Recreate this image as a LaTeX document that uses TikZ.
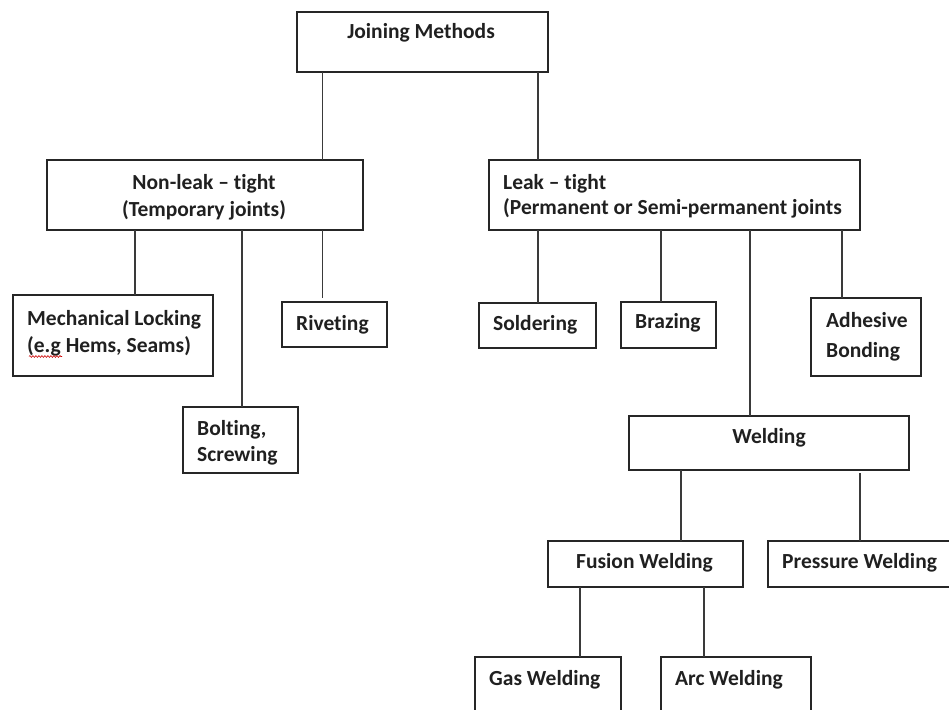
\documentclass[tikz,border=0pt]{standalone}
\usepackage{fontspec}
\setmainfont{Carlito}[Ligatures=NoCommon, RawFeature={-liga;-dlig;-clig}]
\usetikzlibrary{decorations.pathmorphing}
\definecolor{boxc}{HTML}{262626}
\definecolor{linec}{HTML}{3A3A3A}
\definecolor{txtc}{HTML}{202020}
\begin{document}
\begin{tikzpicture}[x=1pt,y=-1pt,
  box/.style={draw=boxc, line width=1.6pt, fill=white, inner sep=0pt, outer sep=0pt},
  link/.style={draw=linec, line width=1.5pt},
  txt/.style={font=\fontsize{21.5}{26}\selectfont\bfseries, text=txtc, inner sep=0pt},
  lt/.style={txt, anchor=base west},
  ct/.style={txt, anchor=base},
  squig/.style={draw=red!80!black, line width=0.6pt, decorate, decoration={snake, segment length=3pt, amplitude=0.9pt}}
  ]
\useasboundingbox (0,0) rectangle (949,709);
\clip (0,0) rectangle (949,709);
\fill[white] (0,0) rectangle (949,709);

% boxes
\node[box, minimum width=251pt, minimum height=60pt] (jm) at (422.5,42) {};
\node[box, minimum width=316pt, minimum height=70pt] (nl) at (205,195) {};
\node[box, minimum width=371pt, minimum height=70pt] (lk) at (674.5,195) {};
\node[box, minimum width=200pt, minimum height=81pt] (mech) at (113,335.5) {};
\node[box, minimum width=105pt, minimum height=45pt] (riv) at (334.5,324.5) {};
\node[box, minimum width=115pt, minimum height=66pt] (bolt) at (240.5,440) {};
\node[box, minimum width=117pt, minimum height=45pt] (sold) at (537.5,325.5) {};
\node[box, minimum width=95pt, minimum height=46pt] (braz) at (668.5,325) {};
\node[box, minimum width=110pt, minimum height=78pt] (adh) at (866,337) {};
\node[box, minimum width=280pt, minimum height=54pt] (weld) at (769,443) {};
\node[box, minimum width=195pt, minimum height=46pt] (fus) at (645.5,564) {};
\node[box, minimum width=192pt, minimum height=46pt] (pres) at (864,564) {};
\node[box, minimum width=146pt, minimum height=73pt] (gas) at (548,693.5) {};
\node[box, minimum width=150pt, minimum height=73pt] (arc) at (736,693.5) {};

% connectors
\draw[link] (jm.south -| 322.5,0) -- (nl.north -| 322.5,0);
\draw[link] (jm.south -| 538,0) -- (lk.north -| 538,0);
\draw[link] (nl.south -| 135,0) -- (mech.north -| 135,0);
\draw[link] (nl.south -| 242,0) -- (bolt.north -| 242,0);
\draw[link] (nl.south -| 322.5,0) -- ([yshift=4pt]riv.north -| 322.5,0);
\draw[link] (lk.south -| 538,0) -- (sold.north -| 538,0);
\draw[link] (lk.south -| 661,0) -- (braz.north -| 661,0);
\draw[link] (lk.south -| 750,0) -- (weld.north -| 750,0);
\draw[link] (lk.south -| 842,0) -- (adh.north -| 842,0);
\draw[link] (weld.south -| 681,0) -- (fus.north -| 681,0);
\draw[link] ([yshift=-3pt]weld.south -| 860,0) -- (pres.north -| 860,0);
\draw[link] (fus.south -| 580,0) -- (gas.north -| 580,0);
\draw[link] (fus.south -| 704,0) -- (arc.north -| 704,0);

% texts
\node[ct] (t-jm) at (421,38) {Joining Methods};
\node[ct] (t-nl1) at (204,189) {Non-leak – tight};
\node[ct] (t-nl2) at (204,216) {(Temporary joints)};
\node[lt] (t-lk1) at (503,189) {Leak – tight};
\node[lt] (t-lk2) at (503,214) {(Permanent or Semi-permanent joints};
\node[lt] (t-me1) at (27,325) {Mechanical Locking};
\node[lt] (t-me2) at (27,352) {(e.g Hems, Seams)};
\node[lt] (t-riv) at (296,330) {Riveting};
\node[lt] (t-bo1) at (197,435) {Bolting,};
\node[lt] (t-bo2) at (197,461) {Screwing};
\node[lt] (t-sol) at (493,330) {Soldering};
\node[lt] (t-bra) at (635,328) {Brazing};
\node[lt] (t-ad1) at (826,327) {Adhesive};
\node[lt] (t-ad2) at (826,357) {Bonding};
\node[ct] (t-wel) at (769,443) {Welding};
\node[ct] (t-fus) at (644.5,568) {Fusion Welding};
\node[lt] (t-pre) at (782,568) {Pressure Welding};
\node[lt] (t-gas) at (489,685) {Gas Welding};
\node[lt] (t-arc) at (675,685) {Arc Welding};

% spell-check squiggle
\coordinate (sq1) at (29,356.5);
\coordinate (sq2) at (62,356.5);
\draw[squig] (sq1) -- (sq2);
\end{tikzpicture}
\end{document}
